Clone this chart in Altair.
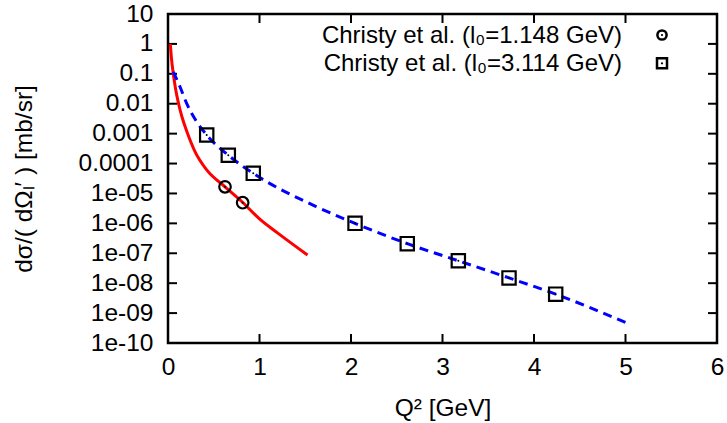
import json
import altair as alt
import pandas as pd

# ---------------- data ----------------
red_q2 = [0.025, 0.037, 0.058, 0.083, 0.115, 0.153, 0.208, 0.295, 0.423, 0.623, 0.82, 1.0, 1.2, 1.525]
red_sigma = [1.0, 0.351, 0.1, 0.031, 0.0102, 3.6e-3, 1.13e-3, 2.5e-4, 6.1e-5, 1.67e-5, 4.9e-6, 1.4e-6, 4.7e-7, 8.7e-8]

blue_q2 = [0.058, 0.131, 0.204, 0.314, 0.423, 0.659, 0.932, 1.607, 2.044, 2.615, 3.173, 3.727, 4.237, 5.041]
blue_sigma = [0.117, 0.037, 0.0102, 2.5e-3, 9.0e-4, 1.9e-4, 4.7e-5, 3.8e-6, 1.0e-6, 2.1e-7, 5.6e-8, 1.5e-8, 4.3e-9, 4.3e-10]

circ_q2 = [0.623, 0.816]
circ_sigma = [1.67e-5, 4.9e-6]

sq_q2 = [0.423, 0.659, 0.932, 2.044, 2.615, 3.173, 3.727, 4.237]
sq_sigma = [9.0e-4, 1.9e-4, 4.7e-5, 1.0e-6, 2.1e-7, 5.6e-8, 1.5e-8, 4.3e-9]

x_ticks = [0, 1, 2, 3, 4, 5, 6]
x_inner_ticks = [1, 2, 3, 4, 5]
y_tick_values = [10, 1, 0.1, 0.01, 0.001, 0.0001, 1e-05, 1e-06, 1e-07, 1e-08, 1e-09, 1e-10]
y_tick_labels = ["10", "1", "0.1", "0.01", "0.001", "0.0001", "1e-05", "1e-06",
                 "1e-07", "1e-08", "1e-09", "1e-10"]
legend_labels = ["Christy et al. (l\u2080=1.148 GeV)", "Christy et al. (l\u2080=3.114 GeV)"]

x_title = "Q\u00b2 [GeV]"
y_title = "d\u03c3/( d\u03a9\u2097\u2032 ) [mb/sr]"

# ---------------- styling ----------------
FONT = "Liberation Sans"
FS = 24.5
LFS = 24
W, H = 549, 329
TICK = 9

xscale = alt.Scale(domain=[0, 6], nice=False, zero=False)
yscale = alt.Scale(type="log", domain=[1e-10, 10], nice=False)

# label i belongs to the tick 10^(1-i)
label_expr = f"{json.dumps(y_tick_labels)}[round(1 - log(datum.value) / LN10)]"

xaxis = alt.Axis(values=x_ticks, format="d", title=x_title, ticks=False, tickSize=0,
                 domain=False, grid=False, labelFont=FONT, labelFontSize=FS,
                 labelColor="black", labelPadding=12, labelFlush=False,
                 titleFont=FONT, titleFontSize=FS, titleFontWeight="normal",
                 titleColor="black", titlePadding=18)
yaxis = alt.Axis(values=y_tick_values, labelExpr=label_expr, title=y_title,
                 ticks=False, tickSize=0, domain=False, grid=False,
                 labelFont=FONT, labelFontSize=FS, labelColor="black",
                 labelPadding=15, labelFlush=False, labelOverlap=False,
                 titleFont=FONT, titleFontSize=FS, titleFontWeight="normal",
                 titleColor="black", titlePadding=42)


def X():
    return alt.X("q2:Q", scale=xscale, axis=xaxis)


def Y():
    return alt.Y("s:Q", scale=yscale, axis=yaxis)


red_df = pd.DataFrame({"q2": red_q2, "s": red_sigma})
blue_df = pd.DataFrame({"q2": blue_q2, "s": blue_sigma})
circ_df = pd.DataFrame({"q2": circ_q2, "s": circ_sigma})
sq_df = pd.DataFrame({"q2": sq_q2, "s": sq_sigma})
yt_df = pd.DataFrame({"s": y_tick_values})
xt_df = pd.DataFrame({"q2": x_inner_ticks})

red = alt.Chart(red_df).mark_line(color="#ff0000", strokeWidth=3, interpolate="monotone",
                                  clip=True).encode(x=X(), y=Y())
blue = alt.Chart(blue_df).mark_line(color="#0000ff", strokeWidth=3, strokeDash=[9, 6],
                                    interpolate="monotone", clip=True).encode(x=X(), y=Y())
circles = alt.Chart(circ_df).mark_point(shape="circle", size=133, filled=False,
                                        color="black", strokeWidth=2.2, opacity=1).encode(x=X(), y=Y())
squares = alt.Chart(sq_df).mark_point(shape="square", size=177, filled=False,
                                      color="black", strokeWidth=2.2, opacity=1).encode(x=X(), y=Y())
circ_dots = alt.Chart(circ_df).mark_circle(size=4, color="black", opacity=1).encode(x=X(), y=Y())
sq_dots = alt.Chart(sq_df).mark_circle(size=4, color="black", opacity=1).encode(x=X(), y=Y())

tick_style = dict(color="black", strokeWidth=2)
yt_left = alt.Chart(yt_df).mark_rule(**tick_style).encode(
    y=Y(), x=alt.value(0), x2=alt.value(TICK))
yt_right = alt.Chart(yt_df).mark_rule(**tick_style).encode(
    y=Y(), x=alt.value(W), x2=alt.value(W - TICK))
xt_bottom = alt.Chart(xt_df).mark_rule(**tick_style).encode(
    x=X(), y=alt.value(H), y2=alt.value(H - TICK))
xt_top = alt.Chart(xt_df).mark_rule(**tick_style).encode(
    x=X(), y=alt.value(0), y2=alt.value(TICK))

# legend (top right, symbols right of the labels)
leg_layers = []
leg_rows_y_text = [29, 56.5]
leg_rows_y_sym = [21, 49.3]
leg_shapes = ["circle", "square"]
for i, lab in enumerate(legend_labels):
    ldf = pd.DataFrame({"label": [lab]})
    leg_layers.append(alt.Chart(ldf).mark_text(
        align="right", baseline="alphabetic", font=FONT, fontSize=LFS, color="black"
    ).encode(text="label:N", x=alt.value(454), y=alt.value(leg_rows_y_text[i])))
    leg_layers.append(alt.Chart(ldf).mark_point(
        shape=leg_shapes[i], size=85 if leg_shapes[i] == "circle" else 100,
        filled=False, color="black", strokeWidth=2.5, opacity=1
    ).encode(x=alt.value(494), y=alt.value(leg_rows_y_sym[i])))
    leg_layers.append(alt.Chart(ldf).mark_circle(size=5, color="black", opacity=1).encode(
        x=alt.value(494), y=alt.value(leg_rows_y_sym[i])))

chart = alt.layer(
    yt_left, yt_right, xt_bottom, xt_top,
    red, blue, circles, squares, circ_dots, sq_dots,
    *leg_layers
).properties(
    width=W, height=H,
    autosize=alt.AutoSizeParams(type="none"),
    padding={"left": 168, "top": 14, "right": 10, "bottom": 80},
    background="white",
).configure_view(
    stroke="black", strokeWidth=2.5
)

chart.save("out.html", embed_options={"renderer": "svg", "actions": False})
